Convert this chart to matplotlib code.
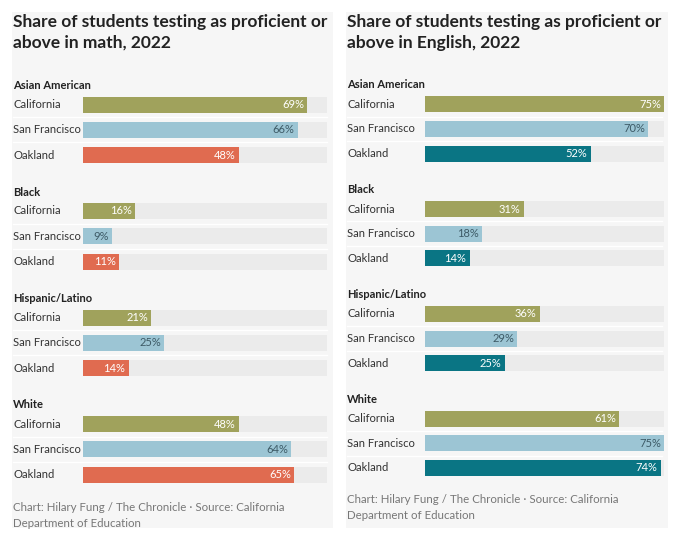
import matplotlib.pyplot as plt
from matplotlib import transforms
from matplotlib.patches import Rectangle

plt.rcParams['font.family'] = ['Lato', 'DejaVu Sans']

groups = ['Asian American', 'Black', 'Hispanic/Latino', 'White']
places = ['California', 'San Francisco', 'Oakland']

math_ca = [69, 16, 21, 48]
math_sf = [66, 9, 25, 64]
math_oak = [48, 11, 14, 65]

eng_ca = [75, 31, 36, 61]
eng_sf = [70, 18, 29, 75]
eng_oak = [52, 14, 25, 74]

track_max = 75
W, H = 680, 540

fig = plt.figure(figsize=(6.8, 5.4), dpi=100)
fig.patch.set_facecolor('white')

panels = [
    dict(title='Share of students testing as proficient or\nabove in math, 2022',
         series=[math_ca, math_sf, math_oak],
         colors=['#a0a25c', '#9cc5d4', '#e06b50'],
         box=(12, 12, 333, 528), bar_x=(83, 327),
         head0=85.5, head_step=106.5, row_off=19, row_step=25.3,
         source_y=502),
    dict(title='Share of students testing as proficient or\nabove in English, 2022',
         series=[eng_ca, eng_sf, eng_oak],
         colors=['#a0a25c', '#9cc5d4', '#0a7584'],
         box=(346, 12, 668, 528), bar_x=(425, 664),
         head0=85, head_step=104.8, row_off=19.3, row_step=24.6,
         source_y=494),
]
text_colors = ['white', '#3d5a66', 'white']

for p in panels:
    x0, y0, x1, y1 = p['box']
    fig.patches.append(Rectangle((x0 / W, 1 - y1 / H), (x1 - x0) / W, (y1 - y0) / H,
                                 transform=fig.transFigure, facecolor='#f6f6f6',
                                 edgecolor='none', zorder=-5))
    bx0, bx1 = p['bar_x']
    ax = fig.add_axes([bx0 / W, 0, (bx1 - bx0) / W, 1])
    ax.set_zorder(2)
    ax.set_xlim(0, track_max)
    ax.set_ylim(H, 0)
    ax.axis('off')
    lab = transforms.blended_transform_factory(fig.transFigure, ax.transData)
    lx = (x0 + 1) / W

    fig.text(lx, 1 - (y0 + 2) / H, p['title'], ha='left', va='top', fontsize=12.5,
             fontweight='bold', color='#222222', linespacing=1.35)

    for g, grp in enumerate(groups):
        hy = p['head0'] + g * p['head_step']
        ax.text(lx, hy, grp, transform=lab, ha='left', va='center', fontsize=8,
                fontweight='bold', color='#222222', clip_on=False)
        for r, place in enumerate(places):
            y = hy + p['row_off'] + r * p['row_step']
            val = p['series'][r][g]
            ax.barh(y, track_max, height=16, color='#ebebeb', zorder=1)
            ax.barh(y, val, height=16, color=p['colors'][r], zorder=2)
            ax.text(val - 1, y, f'{val}%', ha='right', va='center', fontsize=8,
                    color=text_colors[r], zorder=3)
            ax.text(lx, y, place, transform=lab, ha='left', va='center', fontsize=8.1,
                    color='#333333', clip_on=False)
            if r < 2:
                sep = y + p['row_step'] / 2
                ax.plot([lx, x1 / W - 6 / W], [sep, sep], transform=lab, color='white',
                        lw=1, zorder=1, clip_on=False)

    fig.text(lx, 1 - p['source_y'] / H,
             'Chart: Hilary Fung / The Chronicle \u00b7 Source: California\nDepartment of Education',
             ha='left', va='top', fontsize=8.3, color='#777777', linespacing=1.55)

fig.savefig('out.png', dpi=100, facecolor='white')
